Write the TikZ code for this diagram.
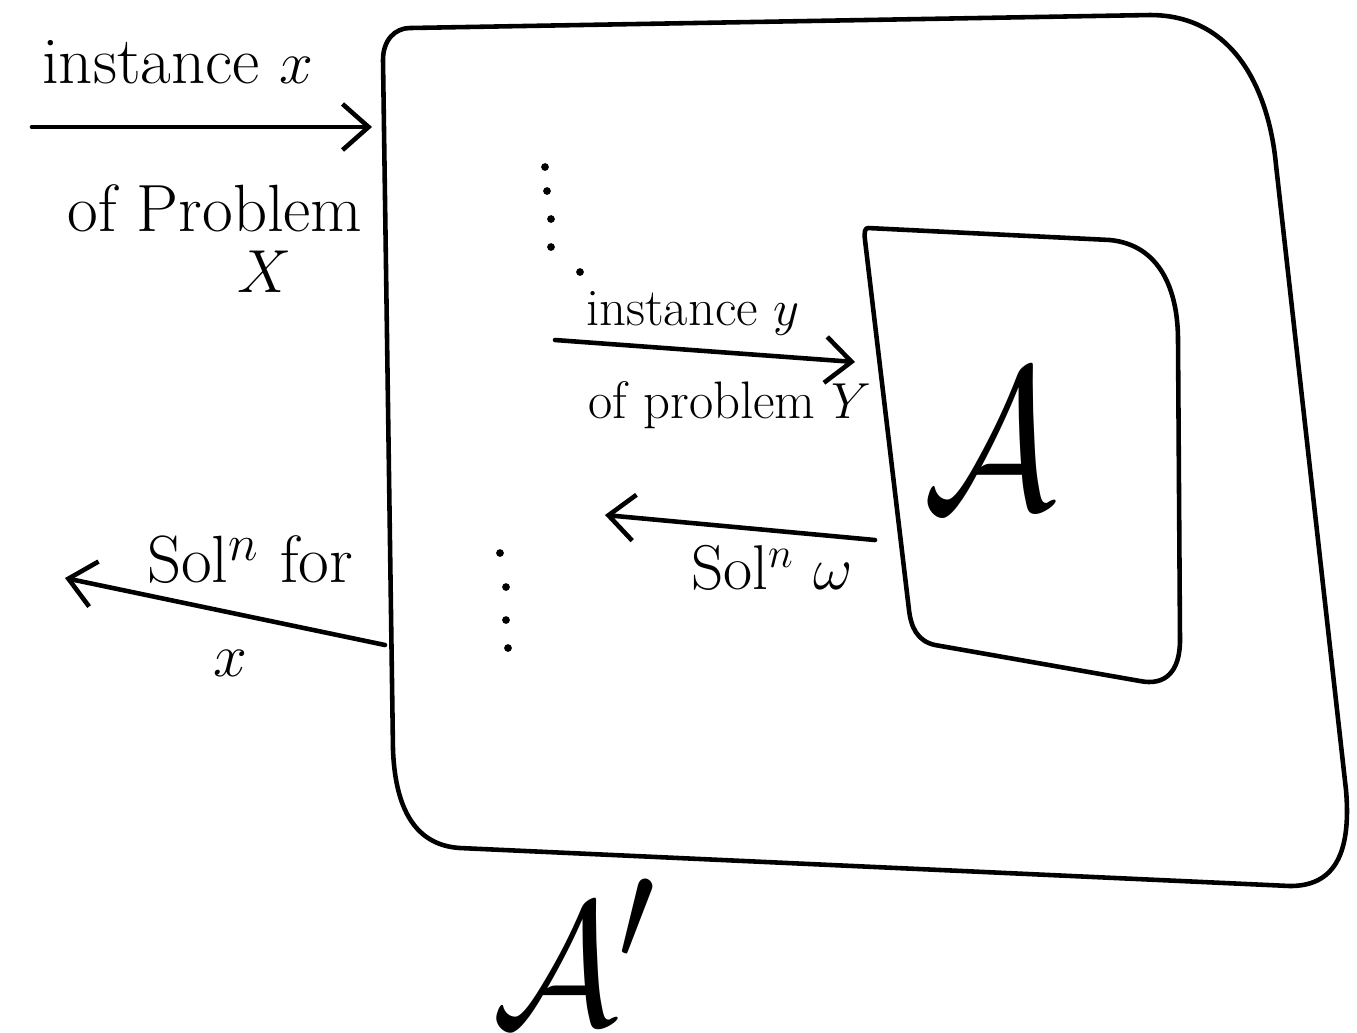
\documentclass[tikz,border=0pt]{standalone}
\usepackage{fontspec}
\usetikzlibrary{arrows.meta}
\begin{document}
\begin{tikzpicture}[x=0.01cm,y=-0.01cm,
  ink/.style={line width=1.3pt, line cap=round, line join=round},
  flow/.style={ink, -{Straight Barb[length=2.6mm,width=4.6mm,line width=1.3pt]}},
  lbl/.style={inner sep=0pt, font=\fontsize{19}{22}\selectfont},
  slbl/.style={inner sep=0pt, font=\fontsize{15}{18}\selectfont},
  big/.style={inner sep=0pt, font=\fontsize{24.88}{26}\selectfont},
  dot/.style={circle, fill=black, inner sep=0pt, minimum size=2.2pt}]
\useasboundingbox (0,0) rectangle (1357,1032);

% outer box A'
\draw[ink] (410,28) -- (1150,15) .. controls (1240,15) and (1270,100) .. (1276,165)
  -- (1346,790) .. controls (1352,860) and (1330,886) .. (1290,886)
  -- (460,848) .. controls (410,845) and (395,800) .. (393,750)
  -- (383,60) .. controls (383,40) and (395,28) .. (410,28) -- cycle;

% inner box A
\draw[ink] (868,228) -- (1110,240) .. controls (1160,245) and (1178,290) .. (1178,340)
  -- (1180,640) .. controls (1180,672) and (1165,686) .. (1140,681)
  -- (935,645) .. controls (917,641) and (911,627) .. (909,610)
  -- (865,240) .. controls (864,232) and (865,228) .. (868,228) -- cycle;

\node[big] (A) at (990,440) {\scalebox{1.9}[2.3]{$\mathcal{A}$}};
\node[big] (Ap) at (575,952) {\scalebox{1.8}[2.0]{$\mathcal{A}'$}};

% input arrow x
\coordinate (xin1) at (32,127);
\coordinate (xin2) at (372,127);
\draw[flow] (xin1) -- (xin2);
\node[lbl] (lx1) at (178,62) {instance $x$};
\node[lbl] (lx2) at (215,208) {of Problem};
\node[lbl] (lx3) at (265,272) {$X$};

% instance y arrow
\coordinate (yin1) at (555,340);
\coordinate (yin2) at (855,362);
\draw[flow] (yin1) -- (yin2);
\node[slbl] (ly1) at (693,313) {instance $y$};
\node[slbl] (ly2) at (730,405) {of problem $Y$};

% solution w arrow
\coordinate (w1) at (875,540);
\coordinate (w2) at (605,515);
\draw[flow] (w1) -- (w2);
\node[inner sep=0pt, font=\fontsize{18}{20}\selectfont] (lw) at (772,568) {Sol$^n$ $\omega$};

% solution x arrow
\coordinate (s1) at (385,645);
\coordinate (s2) at (65,578);
\draw[flow] (s1) -- (s2);
\node[lbl] (ls1) at (250,560) {Sol$^n$ for};
\node[lbl] (ls2) at (230,663) {$x$};

% dots
\foreach \px/\py [count=\i] in {545/167,547/191,551/219,551/247,580/272}
  \node[dot] (du\i) at (\px,\py) {};
\foreach \px/\py [count=\i] in {500/553,506/587,506/620,508/648}
  \node[dot] (dl\i) at (\px,\py) {};
\end{tikzpicture}
\end{document}
